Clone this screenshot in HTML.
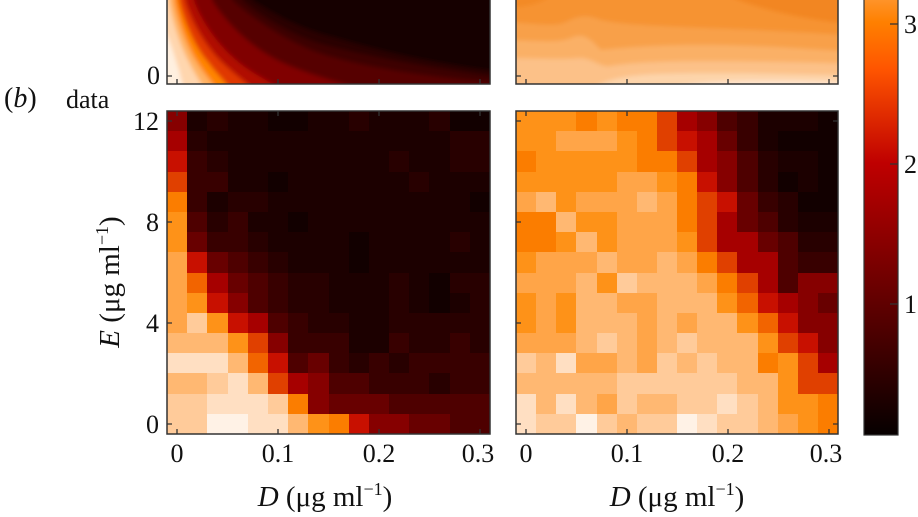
<!DOCTYPE html>
<html><head><meta charset="utf-8">
<style>
html,body{margin:0;padding:0;background:#fff;}
#w{position:relative;width:918px;height:517px;overflow:hidden;background:#fff;font-family:"Liberation Serif",serif;}
.g{position:absolute;top:111px;width:323px;height:323px;display:grid;grid-template-columns:repeat(16,1fr);grid-template-rows:repeat(16,1fr);}
.g b{display:block;}
.k0{background:#120000}.k1{background:#1c0000}.k2{background:#280000}.k3{background:#380000}
.k4{background:#4e0000}.k5{background:#680000}.k6{background:#860000}.k7{background:#a60000}
.k8{background:#c81000}.k9{background:#e04000}.kA{background:#f26400}.kB{background:#fb7d00}
.kC{background:#fe9218}.kD{background:#ffa548}.kE{background:#ffb872}.kF{background:#ffcb9a}
.kG{background:#ffdfc2}.kH{background:#fff2e6}
svg{position:absolute;left:0;top:0;}
</style></head><body><div id="w">

<div class="g" style="left:167px">
<b class=k6></b><b class=k1></b><b class=k2></b><b class=k1></b><b class=k1></b><b class=k0></b><b class=k0></b><b class=k1></b><b class=k1></b><b class=k2></b><b class=k1></b><b class=k1></b><b class=k1></b><b class=k2></b><b class=k0></b><b class=k0></b>
<b class=k7></b><b class=k2></b><b class=k1></b><b class=k1></b><b class=k1></b><b class=k1></b><b class=k1></b><b class=k1></b><b class=k1></b><b class=k1></b><b class=k1></b><b class=k1></b><b class=k1></b><b class=k1></b><b class=k2></b><b class=k2></b>
<b class=k8></b><b class=k3></b><b class=k2></b><b class=k1></b><b class=k1></b><b class=k1></b><b class=k1></b><b class=k1></b><b class=k1></b><b class=k1></b><b class=k1></b><b class=k2></b><b class=k1></b><b class=k1></b><b class=k2></b><b class=k2></b>
<b class=k9></b><b class=k3></b><b class=k3></b><b class=k1></b><b class=k1></b><b class=k0></b><b class=k1></b><b class=k1></b><b class=k1></b><b class=k1></b><b class=k1></b><b class=k1></b><b class=k2></b><b class=k1></b><b class=k1></b><b class=k1></b>
<b class=kB></b><b class=k3></b><b class=k1></b><b class=k2></b><b class=k2></b><b class=k1></b><b class=k1></b><b class=k1></b><b class=k1></b><b class=k1></b><b class=k1></b><b class=k1></b><b class=k1></b><b class=k1></b><b class=k1></b><b class=k0></b>
<b class=kC></b><b class=k4></b><b class=k2></b><b class=k3></b><b class=k1></b><b class=k1></b><b class=k0></b><b class=k1></b><b class=k1></b><b class=k1></b><b class=k1></b><b class=k1></b><b class=k1></b><b class=k1></b><b class=k1></b><b class=k1></b>
<b class=kC></b><b class=k5></b><b class=k3></b><b class=k3></b><b class=k2></b><b class=k1></b><b class=k1></b><b class=k1></b><b class=k1></b><b class=k0></b><b class=k1></b><b class=k1></b><b class=k1></b><b class=k1></b><b class=k2></b><b class=k1></b>
<b class=kD></b><b class=k8></b><b class=k5></b><b class=k4></b><b class=k3></b><b class=k2></b><b class=k1></b><b class=k1></b><b class=k1></b><b class=k0></b><b class=k1></b><b class=k1></b><b class=k1></b><b class=k1></b><b class=k1></b><b class=k1></b>
<b class=kD></b><b class=kA></b><b class=k7></b><b class=k5></b><b class=k4></b><b class=k3></b><b class=k2></b><b class=k2></b><b class=k1></b><b class=k1></b><b class=k1></b><b class=k2></b><b class=k1></b><b class=k0></b><b class=k2></b><b class=k2></b>
<b class=kD></b><b class=kC></b><b class=k8></b><b class=k6></b><b class=k4></b><b class=k3></b><b class=k2></b><b class=k2></b><b class=k1></b><b class=k1></b><b class=k1></b><b class=k2></b><b class=k1></b><b class=k0></b><b class=k1></b><b class=k2></b>
<b class=kD></b><b class=kF></b><b class=kC></b><b class=k8></b><b class=k7></b><b class=k4></b><b class=k3></b><b class=k2></b><b class=k2></b><b class=k1></b><b class=k1></b><b class=k2></b><b class=k2></b><b class=k2></b><b class=k2></b><b class=k2></b>
<b class=kE></b><b class=kE></b><b class=kE></b><b class=kC></b><b class=k9></b><b class=k6></b><b class=k3></b><b class=k3></b><b class=k3></b><b class=k1></b><b class=k1></b><b class=k3></b><b class=k2></b><b class=k2></b><b class=k3></b><b class=k2></b>
<b class=kG></b><b class=kG></b><b class=kG></b><b class=kE></b><b class=kA></b><b class=k8></b><b class=k4></b><b class=k5></b><b class=k3></b><b class=k2></b><b class=k3></b><b class=k2></b><b class=k3></b><b class=k3></b><b class=k3></b><b class=k3></b>
<b class=kE></b><b class=kE></b><b class=kF></b><b class=kG></b><b class=kE></b><b class=k9></b><b class=k7></b><b class=k6></b><b class=k4></b><b class=k4></b><b class=k3></b><b class=k3></b><b class=k3></b><b class=k2></b><b class=k3></b><b class=k3></b>
<b class=kF></b><b class=kF></b><b class=kG></b><b class=kG></b><b class=kG></b><b class=kF></b><b class=kB></b><b class=k6></b><b class=k5></b><b class=k5></b><b class=k5></b><b class=k4></b><b class=k4></b><b class=k4></b><b class=k4></b><b class=k4></b>
<b class=kF></b><b class=kF></b><b class=kH></b><b class=kH></b><b class=kG></b><b class=kG></b><b class=kE></b><b class=kC></b><b class=kB></b><b class=k8></b><b class=k6></b><b class=k6></b><b class=k5></b><b class=k5></b><b class=k4></b><b class=k4></b>
</div>

<div class="g" style="left:516px;width:322px">
<b class=kC></b><b class=kC></b><b class=kC></b><b class=kB></b><b class=kC></b><b class=kB></b><b class=kB></b><b class=k9></b><b class=k7></b><b class=k6></b><b class=k4></b><b class=k3></b><b class=k1></b><b class=k1></b><b class=k1></b><b class=k0></b>
<b class=kC></b><b class=kC></b><b class=kD></b><b class=kD></b><b class=kD></b><b class=kC></b><b class=kB></b><b class=k9></b><b class=k8></b><b class=k7></b><b class=k5></b><b class=k3></b><b class=k1></b><b class=k0></b><b class=k0></b><b class=k0></b>
<b class=kB></b><b class=kC></b><b class=kC></b><b class=kC></b><b class=kC></b><b class=kC></b><b class=kB></b><b class=kB></b><b class=k9></b><b class=k7></b><b class=k6></b><b class=k4></b><b class=k2></b><b class=k1></b><b class=k1></b><b class=k0></b>
<b class=kC></b><b class=kC></b><b class=kC></b><b class=kC></b><b class=kC></b><b class=kD></b><b class=kD></b><b class=kC></b><b class=kB></b><b class=k8></b><b class=k6></b><b class=k4></b><b class=k2></b><b class=k0></b><b class=k1></b><b class=k0></b>
<b class=kD></b><b class=kE></b><b class=kC></b><b class=kD></b><b class=kD></b><b class=kD></b><b class=kE></b><b class=kD></b><b class=kB></b><b class=k9></b><b class=k8></b><b class=k5></b><b class=k3></b><b class=k2></b><b class=k0></b><b class=k0></b>
<b class=kB></b><b class=kB></b><b class=kE></b><b class=kC></b><b class=kC></b><b class=kD></b><b class=kD></b><b class=kD></b><b class=kB></b><b class=k9></b><b class=k7></b><b class=k5></b><b class=k4></b><b class=k2></b><b class=k1></b><b class=k1></b>
<b class=kB></b><b class=kB></b><b class=kC></b><b class=kE></b><b class=kC></b><b class=kD></b><b class=kD></b><b class=kD></b><b class=kC></b><b class=k9></b><b class=k7></b><b class=k7></b><b class=k5></b><b class=k4></b><b class=k2></b><b class=k2></b>
<b class=kC></b><b class=kD></b><b class=kD></b><b class=kD></b><b class=kE></b><b class=kD></b><b class=kD></b><b class=kE></b><b class=kD></b><b class=kB></b><b class=k9></b><b class=k7></b><b class=k7></b><b class=k4></b><b class=k3></b><b class=k3></b>
<b class=kD></b><b class=kD></b><b class=kD></b><b class=kE></b><b class=kC></b><b class=kF></b><b class=kE></b><b class=kE></b><b class=kE></b><b class=kD></b><b class=kB></b><b class=k9></b><b class=k7></b><b class=k4></b><b class=k6></b><b class=k6></b>
<b class=kC></b><b class=kD></b><b class=kC></b><b class=kE></b><b class=kE></b><b class=kD></b><b class=kD></b><b class=kE></b><b class=kE></b><b class=kE></b><b class=kC></b><b class=kA></b><b class=k8></b><b class=k7></b><b class=k6></b><b class=k5></b>
<b class=kC></b><b class=kD></b><b class=kC></b><b class=kE></b><b class=kE></b><b class=kE></b><b class=kD></b><b class=kE></b><b class=kD></b><b class=kE></b><b class=kE></b><b class=kC></b><b class=kA></b><b class=k8></b><b class=k6></b><b class=k6></b>
<b class=kD></b><b class=kD></b><b class=kD></b><b class=kE></b><b class=kF></b><b class=kE></b><b class=kD></b><b class=kE></b><b class=kF></b><b class=kE></b><b class=kE></b><b class=kE></b><b class=kC></b><b class=k9></b><b class=k8></b><b class=k6></b>
<b class=kF></b><b class=kE></b><b class=kG></b><b class=kD></b><b class=kD></b><b class=kE></b><b class=kD></b><b class=kF></b><b class=kE></b><b class=kF></b><b class=kE></b><b class=kE></b><b class=kB></b><b class=kC></b><b class=k9></b><b class=k7></b>
<b class=kE></b><b class=kE></b><b class=kE></b><b class=kE></b><b class=kE></b><b class=kF></b><b class=kF></b><b class=kF></b><b class=kF></b><b class=kF></b><b class=kF></b><b class=kE></b><b class=kE></b><b class=kC></b><b class=k9></b><b class=k9></b>
<b class=kG></b><b class=kE></b><b class=kG></b><b class=kE></b><b class=kD></b><b class=kF></b><b class=kE></b><b class=kE></b><b class=kF></b><b class=kF></b><b class=kG></b><b class=kF></b><b class=kE></b><b class=kC></b><b class=kC></b><b class=kB></b>
<b class=kG></b><b class=kF></b><b class=kF></b><b class=kH></b><b class=kF></b><b class=kE></b><b class=kF></b><b class=kF></b><b class=kH></b><b class=kG></b><b class=kF></b><b class=kF></b><b class=kE></b><b class=kD></b><b class=kC></b><b class=kB></b>
</div>

<svg width="918" height="517" viewBox="0 0 918 517" xmlns="http://www.w3.org/2000/svg">
<defs>
<filter id="bl" x="-20%" y="-50%" width="140%" height="200%"><feGaussianBlur stdDeviation="2"/></filter>
<linearGradient id="cb" x1="0" y1="0" x2="0" y2="1">
<stop offset="0" stop-color="#ff952c"/>
<stop offset="0.055" stop-color="#ff8000"/>
<stop offset="0.1625" stop-color="#ff5500"/>
<stop offset="0.248" stop-color="#e63300"/>
<stop offset="0.377" stop-color="#bf0000"/>
<stop offset="0.506" stop-color="#990000"/>
<stop offset="0.634" stop-color="#730000"/>
<stop offset="0.763" stop-color="#4d0000"/>
<stop offset="0.892" stop-color="#260000"/>
<stop offset="1" stop-color="#060000"/>
</linearGradient>
</defs>

<!-- top-left model panel -->
<svg x="167" y="0" width="323" height="84" viewBox="0 0 323 84">
<g filter="url(#bl)">
<rect x="-20" y="-20" width="370" height="130" fill="#180000"/>
<path d="M85,-20 L85,0 C100,10 130,28 165,37 C200,47 260,64 345,73 L345,110 L-20,110 L-20,-20 Z" fill="#2a0000"/>
<path d="M75,-20 L75,0 C88,12 125,38 165,47 C200,56 270,70 345,79 L345,110 L-20,110 L-20,-20 Z" fill="#3d0000"/>
<path d="M65,-20 L65,0 C78,12 120,45 165,57 C200,67 260,78 345,84 L345,110 L-20,110 L-20,-20 Z" fill="#560000"/>
<path d="M45,-20 L45,0 C52,12 75,42 110,60 C130,70 160,80 200,90 L200,110 L-20,110 L-20,-20 Z" fill="#800000"/>
<path d="M27,-20 L27,0 C32,15 48,45 78,67 C91,76 103,82 115,90 L115,110 L-20,110 L-20,-20 Z" fill="#b00800"/>
<path d="M18,-20 L18,0 C22,15 36,45 58,65 C68,74 78,82 88,90 L88,110 L-20,110 L-20,-20 Z" fill="#e03800"/>
<path d="M12,-20 L12,0 C15,15 26,45 41,62 C48,72 57,80 64,90 L64,110 L-20,110 L-20,-20 Z" fill="#ff8400"/>
<path d="M7,-20 L7,0 C10,18 19,45 30,62 C36,72 43,80 50,90 L50,110 L-20,110 L-20,-20 Z" fill="#ffb264"/>
<path d="M2,-20 L2,0 C5,20 13,45 22,62 C27,72 32,80 38,90 L38,110 L-20,110 L-20,-20 Z" fill="#ffd6ae"/>
<path d="M-20,12 C0,22 5,50 12,70 L17,90 L17,110 L-20,110 Z" fill="#fff0e0"/>
</g>
</svg>

<!-- top-right model panel -->
<svg x="516" y="0" width="322" height="84" viewBox="0 0 322 84">
<g filter="url(#bl)">
<rect x="-20" y="-20" width="370" height="130" fill="#f69332"/>
<path d="M200,-20 L200,-10 C240,10 290,20 345,25 L345,-20 Z" fill="#f28620"/>
<path d="M-20,-20 L40,-20 C40,0 20,8 -20,8 Z" fill="#f38a26"/>
<path d="M-20,22 C15,22 35,28 50,22 C62,16 70,14 85,20 C120,28 200,26 345,36 L345,110 L-20,110 Z" fill="#f8a04a"/>
<path d="M-20,40 C20,40 40,44 55,38 C68,32 75,40 85,50 C100,48 150,44 200,45 C260,46 300,50 345,52 L345,110 L-20,110 Z" fill="#fab066"/>
<path d="M-20,58 C20,58 45,60 65,58 C80,60 85,68 95,66 C130,60 200,60 345,64 L345,110 L-20,110 Z" fill="#fcc188"/>
<path d="M60,110 C70,82 100,76 140,74 C200,72 280,74 345,76 L345,110 Z" fill="#fdd4aa"/>
<path d="M120,110 C135,85 180,82 230,81 C280,80 320,82 345,83 L345,110 Z" fill="#fee6d0"/>
</g>
</svg>

<g stroke="#333" stroke-width="1.5" fill="none">
<path d="M167,0 V84 H490 V0"/>
<path d="M516,0 V84 H838 V0"/>
<rect x="167" y="111" width="323" height="323"/>
<rect x="516" y="111" width="322" height="323"/>
<rect x="864" y="-2" width="34" height="437" fill="url(#cb)" stroke-width="1.2"/>
</g>

<g stroke="#333" stroke-width="1.3">
<path d="M167,76 h5 M516,76 h5 M838,76 h-5 M177,84 v-5 M278,84 v-5 M379,84 v-5 M480,84 v-5 M526,84 v-5 M627,84 v-5 M728,84 v-5 M829,84 v-5"/>
<path d="M167,121 h5 M167,222 h5 M167,323 h5 M167,424 h5 M177,434 v-5 M278,434 v-5 M379,434 v-5 M480,434 v-5 M177,111 v5 M278,111 v5 M379,111 v5 M480,111 v5"/>
<path d="M516,121 h5 M516,222 h5 M516,323 h5 M516,424 h5 M838,424 h-5 M838,121 h-5 M526,434 v-5 M627,434 v-5 M728,434 v-5 M829,434 v-5 M526,111 v5 M627,111 v5"/>
<path d="M898,24 h-8 M898,164 h-8 M898,304 h-8"/>
</g>

<g font-family="Liberation Serif, serif" font-size="26" fill="#111">
<text x="160" y="84" text-anchor="end">0</text>
<text x="4" y="107" font-size="28">(<tspan font-style="italic">b</tspan>)</text>
<text x="66" y="108">data</text>

<text x="159" y="130" text-anchor="end">12</text>
<text x="159" y="231" text-anchor="end">8</text>
<text x="159" y="332" text-anchor="end">4</text>
<text x="159" y="433" text-anchor="end">0</text>

<text x="177" y="462" text-anchor="middle">0</text>
<text x="278" y="462" text-anchor="middle">0.1</text>
<text x="379" y="462" text-anchor="middle">0.2</text>
<text x="478" y="462" text-anchor="middle">0.3</text>
<text x="526" y="462" text-anchor="middle">0</text>
<text x="627" y="462" text-anchor="middle">0.1</text>
<text x="728" y="462" text-anchor="middle">0.2</text>
<text x="826" y="462" text-anchor="middle">0.3</text>

<text x="904" y="33">3</text>
<text x="904" y="173">2</text>
<text x="904" y="313">1</text>

<text x="325" y="506" text-anchor="middle" font-size="29"><tspan font-style="italic">D</tspan> (μg ml<tspan dy="-11" font-size="18">−1</tspan><tspan dy="11">)</tspan></text>
<text x="677" y="506" text-anchor="middle" font-size="29"><tspan font-style="italic">D</tspan> (μg ml<tspan dy="-11" font-size="18">−1</tspan><tspan dy="11">)</tspan></text>

<text transform="translate(119,282) rotate(-90)" text-anchor="middle" font-size="29"><tspan font-style="italic">E</tspan> (μg ml<tspan dy="-11" font-size="18">−1</tspan><tspan dy="11">)</tspan></text>
</g>
</svg>
</div></body></html>
